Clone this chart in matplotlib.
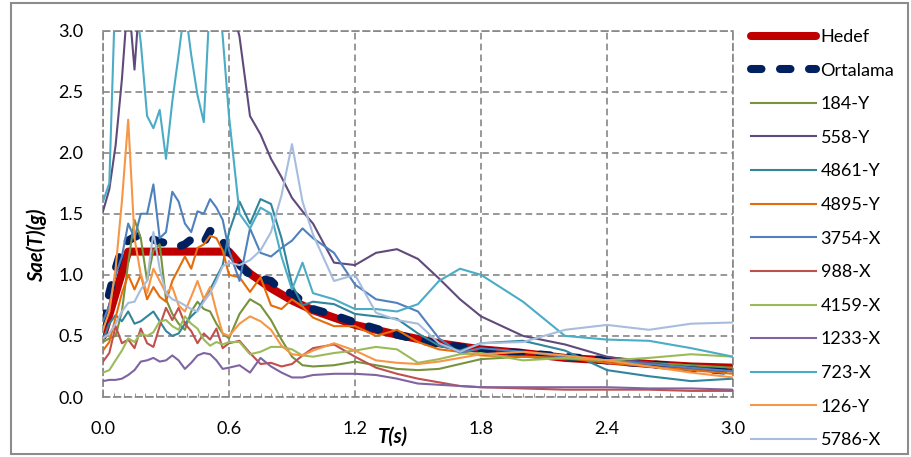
import numpy as np
import matplotlib
matplotlib.use('Agg')
import matplotlib.pyplot as plt
from matplotlib.patches import Rectangle
from matplotlib.ticker import MultipleLocator

plt.rcParams['font.family'] = ['Lato', 'DejaVu Sans']

# period grid (s) shared by the record spectra
T = [0.00, 0.03, 0.06, 0.09, 0.12, 0.15, 0.18, 0.21, 0.24, 0.27, 0.30,
     0.33, 0.36, 0.39, 0.42, 0.45, 0.48, 0.51, 0.54, 0.57, 0.60,
     0.65, 0.70, 0.75, 0.80, 0.85, 0.90, 0.95, 1.00,
     1.10, 1.20, 1.30, 1.40, 1.50, 1.60, 1.70, 1.80,
     2.00, 2.20, 2.40, 2.60, 2.80, 3.00]

# target (design) spectrum
T_HEDEF = [0.00, 0.12, 0.60, 0.65, 0.70, 0.75, 0.80, 0.85, 0.90, 0.95, 1.00,
           1.10, 1.20, 1.40, 1.60, 1.80, 2.00, 2.20, 2.40, 2.60, 2.80, 3.00]
HEDEF = [0.50, 1.19, 1.19, 1.09, 1.01, 0.95, 0.89, 0.84, 0.79, 0.75, 0.71,
         0.65, 0.59, 0.51, 0.44, 0.39, 0.36, 0.32, 0.30, 0.27, 0.25, 0.24]

ORTALAMA = [0.60, 0.85, 1.05, 1.22, 1.28, 1.31, 1.33, 1.29, 1.29, 1.27, 1.26,
            1.24, 1.23, 1.25, 1.29, 1.27, 1.26, 1.36, 1.34, 1.28, 1.16,
            1.08, 1.00, 0.97, 0.95, 0.87, 0.85, 0.78, 0.72,
            0.67, 0.61, 0.56, 0.51, 0.47, 0.43, 0.41, 0.38,
            0.36, 0.33, 0.30, 0.27, 0.24, 0.21]

S184Y = [0.45, 0.48, 0.50, 0.70, 1.10, 1.45, 1.30, 0.95, 1.20, 1.25, 0.80,
         0.68, 0.60, 0.55, 0.70, 0.78, 0.72, 0.70, 0.60, 0.52, 0.48,
         0.68, 0.80, 0.75, 0.63, 0.47, 0.33, 0.26, 0.25,
         0.26, 0.29, 0.26, 0.23, 0.22, 0.23, 0.27, 0.31,
         0.33, 0.31, 0.30, 0.28, 0.26, 0.24]
S558Y = [1.52, 1.70, 2.06, 2.60, 3.30, 2.68, 3.40, 3.60, 3.70, 3.80, 3.90,
         3.90, 3.90, 3.80, 3.80, 3.70, 3.70, 3.60, 3.50, 3.40, 3.30,
         2.95, 2.30, 2.15, 1.95, 1.80, 1.63, 1.52, 1.42,
         1.10, 1.08, 1.18, 1.21, 1.13, 0.97, 0.80, 0.66,
         0.50, 0.43, 0.33, 0.28, 0.23, 0.21]
S4861Y = [0.47, 0.60, 0.67, 0.62, 0.70, 0.60, 0.62, 0.66, 0.70, 0.62, 0.54,
          0.50, 0.52, 0.60, 0.66, 0.71, 0.80, 0.88, 0.98, 1.08, 1.35,
          1.60, 1.42, 1.62, 1.58, 1.30, 0.92, 0.75, 0.78,
          0.76, 0.68, 0.66, 0.64, 0.52, 0.42, 0.38, 0.44,
          0.46, 0.38, 0.22, 0.17, 0.13, 0.15]
S4895Y = [0.38, 0.45, 0.65, 0.85, 1.00, 0.88, 1.00, 0.80, 0.90, 0.82, 0.78,
          0.95, 1.05, 1.15, 1.05, 1.22, 1.25, 1.32, 1.30, 1.20, 1.00,
          0.98, 0.86, 0.98, 0.75, 0.72, 0.80, 0.74, 0.65,
          0.58, 0.58, 0.50, 0.55, 0.45, 0.39, 0.37, 0.34,
          0.33, 0.32, 0.28, 0.25, 0.22, 0.19]
S3754X = [0.62, 0.75, 1.00, 1.15, 1.42, 1.30, 1.50, 1.50, 1.74, 1.30, 1.35,
          1.68, 1.60, 1.42, 1.35, 1.52, 1.50, 1.62, 1.55, 1.45, 1.20,
          0.95, 1.38, 1.18, 1.15, 1.22, 1.28, 1.38, 1.30,
          1.18, 0.92, 0.80, 0.77, 0.70, 0.48, 0.36, 0.40,
          0.37, 0.33, 0.30, 0.27, 0.24, 0.21]
S988X = [0.29, 0.36, 0.58, 0.44, 0.47, 0.40, 0.56, 0.44, 0.41, 0.58, 0.73,
         0.63, 0.73, 0.60, 0.54, 0.44, 0.52, 0.47, 0.56, 0.40, 0.44,
         0.46, 0.36, 0.27, 0.28, 0.25, 0.27, 0.34, 0.40,
         0.43, 0.33, 0.24, 0.19, 0.15, 0.12, 0.09, 0.08,
         0.07, 0.06, 0.06, 0.06, 0.05, 0.05]
S4159X = [0.20, 0.22, 0.30, 0.38, 0.48, 0.45, 0.52, 0.50, 0.53, 0.62, 0.63,
          0.58, 0.55, 0.66, 0.60, 0.56, 0.47, 0.42, 0.45, 0.43, 0.45,
          0.45, 0.35, 0.37, 0.41, 0.41, 0.39, 0.34, 0.33,
          0.36, 0.38, 0.41, 0.39, 0.28, 0.31, 0.35, 0.36,
          0.30, 0.32, 0.30, 0.32, 0.35, 0.33]
S1233X = [0.13, 0.14, 0.14, 0.15, 0.18, 0.22, 0.29, 0.30, 0.32, 0.29, 0.30,
          0.34, 0.30, 0.23, 0.28, 0.34, 0.36, 0.35, 0.30, 0.23, 0.24,
          0.26, 0.20, 0.32, 0.25, 0.20, 0.16, 0.16, 0.18,
          0.19, 0.19, 0.18, 0.15, 0.11, 0.10, 0.09, 0.08,
          0.08, 0.08, 0.08, 0.07, 0.07, 0.06]
S723X = [1.60, 1.75, 3.40, 3.60, 3.50, 3.30, 2.90, 2.30, 2.20, 2.35, 1.95,
         2.42, 2.80, 3.20, 2.80, 2.47, 2.25, 3.30, 3.50, 2.95, 2.30,
         1.50, 1.38, 1.55, 1.50, 1.15, 0.88, 1.10, 0.85,
         0.80, 0.72, 0.72, 0.70, 0.76, 0.95, 1.05, 1.00,
         0.78, 0.50, 0.47, 0.46, 0.40, 0.33]
S126Y = [0.55, 0.70, 1.05, 1.60, 2.27, 1.30, 1.00, 0.85, 1.05, 0.95, 0.85,
         0.90, 0.75, 0.70, 0.82, 0.95, 0.80, 0.90, 0.70, 0.52, 0.50,
         0.60, 0.66, 0.62, 0.55, 0.42, 0.35, 0.34, 0.38,
         0.44, 0.38, 0.30, 0.28, 0.27, 0.29, 0.32, 0.35,
         0.37, 0.34, 0.30, 0.25, 0.20, 0.16]
S5786X = [0.48, 0.52, 0.60, 0.70, 0.77, 0.78, 0.88, 0.95, 1.35, 1.05, 0.85,
          0.80, 0.78, 0.75, 0.72, 0.70, 0.78, 0.85, 0.95, 1.07, 1.10,
          1.08, 1.12, 1.20, 1.35, 1.65, 2.07, 1.60, 1.33,
          0.95, 1.00, 0.69, 0.63, 0.60, 0.44, 0.37, 0.44,
          0.45, 0.55, 0.59, 0.55, 0.60, 0.61]

RECORDS = ['184-Y', '558-Y', '4861-Y', '4895-Y', '3754-X', '988-X',
           '4159-X', '1233-X', '723-X', '126-Y', '5786-X']
RECORD_VALUES = [S184Y, S558Y, S4861Y, S4895Y, S3754X, S988X,
                 S4159X, S1233X, S723X, S126Y, S5786X]
RECORD_COLORS = ['#77933C', '#604A7B', '#31859C', '#E46C0A', '#4F81BD', '#C0504D',
                 '#9BBB59', '#8064A2', '#4BACC6', '#F79646', '#A7BDDD']

W, H = 911, 457
fig = plt.figure(figsize=(W / 100, H / 100), dpi=100)
ax = fig.add_axes([103 / W, 1 - 397 / H, 630 / W, 366.5 / H])

ax.plot(T_HEDEF, HEDEF, color='#C00000', lw=5.8, solid_capstyle='round',
        solid_joinstyle='round', label='Hedef', zorder=2)
ln, = ax.plot(T, ORTALAMA, color='#002060', lw=5.8, dash_capstyle='round',
              dash_joinstyle='round', label='Ortalama', zorder=3)
ln.set_dashes((1.3, 2.3))
for name, vals, c in zip(RECORDS, RECORD_VALUES, RECORD_COLORS):
    ax.plot(T, vals, color=c, lw=1.5, label=name, zorder=4)

ax.set_xlim(0, 3.0)
ax.set_ylim(0, 3.0)
ax.xaxis.set_major_locator(MultipleLocator(0.6))
ax.yaxis.set_major_locator(MultipleLocator(0.5))
ax.xaxis.set_minor_locator(MultipleLocator(0.05))
ax.xaxis.set_major_formatter(lambda v, p: f'{v:.1f}')
ax.yaxis.set_major_formatter(lambda v, p: f'{v:.1f}')
ax.tick_params(axis='both', which='major', length=0, labelsize=13, colors='#000000')
ax.tick_params(axis='x', which='major', pad=17)
ax.tick_params(axis='y', which='major', pad=14)
ax.tick_params(axis='x', which='minor', length=3, direction='in', color='#868686')
ax.grid(True, which='major', color='#868686', lw=1.2, ls=(0, (4, 2.5)))
for s in ax.spines.values():
    s.set_color('#868686')
    s.set_linewidth(1.2)
    s.set_linestyle((0, (4, 2.5)))

fig.text(37 / W, 1 - 245 / H, 'Sae(T)(g)', rotation=90, ha='center', va='center',
         fontsize=14.5, fontweight='bold', fontstyle='italic')
fig.text(393 / W, 1 - 437 / H, 'T(s)', ha='center', va='center',
         fontsize=14.5, fontweight='bold', fontstyle='italic')

ax.legend(loc='upper left', bbox_to_anchor=(751 / W, 1 - 29 / H),
          bbox_transform=fig.transFigure, frameon=False, fontsize=13,
          handlelength=3.6, handletextpad=0.25, labelspacing=0.975,
          borderpad=0, borderaxespad=0)

fig.patches.append(Rectangle((11 / W, 3 / H), 897 / W, 451 / H, transform=fig.transFigure,
                             fill=False, edgecolor='#8c8c8c', lw=1.5))

fig.savefig('out.png', dpi=100)
